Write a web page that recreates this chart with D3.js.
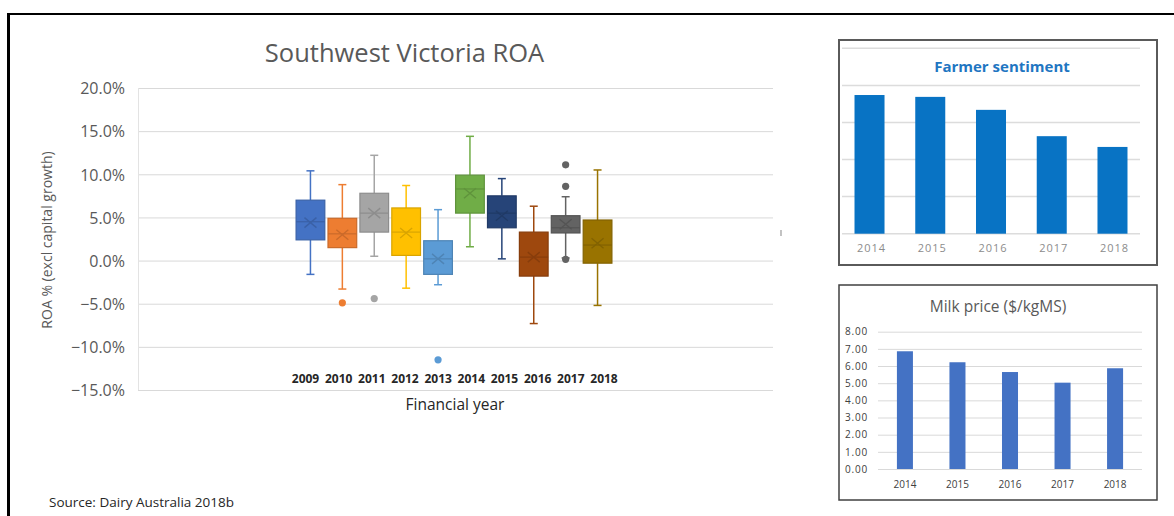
<!DOCTYPE html>
<html>
<head>
<meta charset="utf-8">
<script src="https://cdn.jsdelivr.net/npm/d3@7"></script>
<style>
  html, body { margin: 0; padding: 0; background: #fff; }
  svg { display: block; }
  text { font-family: "Open Sans", "Liberation Sans", sans-serif; }
</style>
</head>
<body>
<svg id="chart" width="1174" height="516"></svg>
<script>
// ---- Southwest Victoria ROA (box & whisker, % excl capital growth) ----
const years = ["2009","2010","2011","2012","2013","2014","2015","2016","2017","2018"];
const whiskerLow  = [-1.6, -3.3, 0.5, -3.2, -2.8, 1.6, 0.2, -7.3, 0.3, -5.2];
const quartile1   = [ 2.4,  1.5, 3.3,  0.6, -1.6, 5.5, 3.8, -1.8, 3.2, -0.3];
const medians     = [ 4.5,  3.1, 5.5,  3.3,  0.2, 8.3, 5.5,  0.4, 3.8,  1.8];
const quartile3   = [ 7.0,  4.9, 7.8,  6.1,  2.3, 9.9, 7.5,  3.3, 5.2,  4.7];
const whiskerHigh = [10.4,  8.8, 12.2, 8.7,  5.9, 14.4, 9.5, 6.3, 7.4, 10.5];
const means       = [ 4.4,  3.0, 5.5,  3.2,  0.2, 7.8, 5.2,  0.4, 4.2,  2.0];
const outliers    = [[], [-4.9], [-4.4], [], [-11.5], [], [], [], [11.1, 8.6, 0.15], []];
const seriesColors = ["#4472C4","#ED7D31","#A5A5A5","#FFC000","#5B9BD5",
                      "#70AD47","#264478","#9E480E","#636363","#997300"];
const roaTicks = [20, 15, 10, 5, 0, -5, -10, -15];

// ---- Farmer sentiment (index) ----
const sentimentYears = ["2014","2015","2016","2017","2018"];
const sentimentValues = [3.74, 3.69, 3.34, 2.63, 2.34];
const sentimentGrid = [0, 1, 2, 3, 4, 5];

// ---- Milk price ($/kgMS) ----
const milkYears = ["2014","2015","2016","2017","2018"];
const milkPrices = [6.86, 6.22, 5.65, 5.03, 5.87];
const milkTicks = [0, 1, 2, 3, 4, 5, 6, 7, 8];

const svg = d3.select("#chart");

// page frame
svg.append("line").attr("x1", 7).attr("x2", 1174).attr("y1", 14).attr("y2", 14)
  .attr("stroke", "#000").attr("stroke-width", 2);
svg.append("line").attr("x1", 8.5).attr("x2", 8.5).attr("y1", 13).attr("y2", 516)
  .attr("stroke", "#000").attr("stroke-width", 3);

// ================= ROA box plot =================
const plot = { left: 138, right: 773, top: 88, bottom: 390 };
const y = d3.scaleLinear().domain([-15, 20]).range([plot.bottom, plot.top]);
const xBox = d3.scaleBand().domain(years).range([294.5, 613.5])
  .paddingInner(0.1).paddingOuter(0.05);
const xLabel = d3.scalePoint().domain(years).range([305.5, 604]);

// gridlines
svg.append("g")
  .attr("transform", `translate(${plot.left},0)`)
  .call(d3.axisLeft(y).tickValues(roaTicks).tickSize(-(plot.right - plot.left)).tickFormat(""))
  .call(g => g.select(".domain").remove())
  .call(g => g.selectAll("line").attr("stroke", "#d9d9d9").attr("stroke-width", 1));
svg.append("line").attr("x1", plot.left + 0.5).attr("x2", plot.left + 0.5)
  .attr("y1", y(20)).attr("y2", y(-15)).attr("stroke", "#e3e3e3");

// tick labels
svg.append("g")
  .attr("transform", `translate(125,0)`)
  .call(d3.axisLeft(y).tickValues(roaTicks).tickSize(0).tickPadding(0)
        .tickFormat(d => d3.format(".1f")(d) + "%"))
  .call(g => g.select(".domain").remove())
  .call(g => g.selectAll("text")
    .attr("fill", "#595959").attr("font-size", "16px")
    .attr("font-family", "'Open Sans', sans-serif").attr("dy", "0.36em"));

// title & axis titles
svg.append("text").attr("x", 404.5).attr("y", 62).attr("text-anchor", "middle")
  .attr("font-size", "25.5px").attr("fill", "#595959").text("Southwest Victoria ROA");
svg.append("text").attr("transform", "translate(52,240) rotate(-90)")
  .attr("text-anchor", "middle").attr("font-size", "14px").attr("fill", "#595959")
  .text("ROA % (excl capital growth)");
svg.append("text").attr("x", 455).attr("y", 410).attr("text-anchor", "middle")
  .attr("font-size", "15.5px").attr("fill", "#262626").text("Financial year");

// boxes
const boxes = svg.append("g").selectAll("g").data(years).join("g");
const bw = xBox.bandwidth();
boxes.each(function(yr, i) {
  const g = d3.select(this);
  const c = d3.color(seriesColors[i]);
  const dark = c.darker(0.45).formatHex();
  const cx = xBox(yr) + bw / 2;
  const capW = 8;
  // whiskers
  g.append("line").attr("x1", cx).attr("x2", cx)
    .attr("y1", y(whiskerHigh[i])).attr("y2", y(quartile3[i]))
    .attr("stroke", seriesColors[i]).attr("stroke-width", 1.5);
  g.append("line").attr("x1", cx).attr("x2", cx)
    .attr("y1", y(quartile1[i])).attr("y2", y(whiskerLow[i]))
    .attr("stroke", seriesColors[i]).attr("stroke-width", 1.5);
  [whiskerHigh[i], whiskerLow[i]].forEach(v => {
    g.append("line").attr("x1", cx - capW / 2).attr("x2", cx + capW / 2)
      .attr("y1", y(v)).attr("y2", y(v))
      .attr("stroke", seriesColors[i]).attr("stroke-width", 1.5);
  });
  // box
  g.append("rect").attr("x", xBox(yr)).attr("width", bw)
    .attr("y", y(quartile3[i])).attr("height", y(quartile1[i]) - y(quartile3[i]))
    .attr("fill", seriesColors[i]).attr("stroke", dark).attr("stroke-width", 1.2);
  // median
  g.append("line").attr("x1", xBox(yr)).attr("x2", xBox(yr) + bw)
    .attr("y1", y(medians[i])).attr("y2", y(medians[i]))
    .attr("stroke", dark).attr("stroke-width", 1.2);
  // mean marker (X)
  const my = y(means[i]), r = 6, rv = 5;
  g.append("path")
    .attr("d", `M${cx - r},${my - rv}L${cx + r},${my + rv}M${cx - r},${my + rv}L${cx + r},${my - rv}`)
    .attr("stroke", dark).attr("stroke-width", 1.4).attr("fill", "none");
  // outliers
  g.selectAll("circle").data(outliers[i]).join("circle")
    .attr("cx", cx).attr("cy", d => y(d)).attr("r", 3.6)
    .attr("fill", seriesColors[i]);
});

// series labels
svg.append("g").selectAll("text").data(years).join("text")
  .attr("x", d => xLabel(d)).attr("y", 383).attr("text-anchor", "middle")
  .attr("font-size", "12px").attr("font-weight", "bold").attr("fill", "#262626")
  .text(d => d);

// small resize handle mark at plot edge
svg.append("line").attr("x1", 781).attr("x2", 781).attr("y1", 230).attr("y2", 236)
  .attr("stroke", "#9a9a9a").attr("stroke-width", 1.2);

// source note
svg.append("text").attr("x", 49).attr("y", 507).attr("font-size", "13.5px")
  .attr("fill", "#262626").text("Source: Dairy Australia 2018b");

// ================= Farmer sentiment panel =================
svg.append("rect").attr("x", 839).attr("y", 40).attr("width", 318).attr("height", 225)
  .attr("fill", "#fff").attr("stroke", "#5a5a5a").attr("stroke-width", 2);
const ys = d3.scaleLinear().domain([0, 5]).range([233.7, 48.3]);
const xs = d3.scaleBand().domain(sentimentYears).range([842, 1140])
  .paddingInner(0.506).paddingOuter(0.206);
svg.append("g").selectAll("line").data(sentimentGrid).join("line")
  .attr("x1", 842).attr("x2", 1140).attr("y1", d => ys(d)).attr("y2", d => ys(d))
  .attr("stroke", "#dcdcdc").attr("stroke-width", 1.5);
svg.append("g").selectAll("rect").data(sentimentValues).join("rect")
  .attr("x", (d, i) => xs(sentimentYears[i])).attr("width", xs.bandwidth())
  .attr("y", d => ys(d)).attr("height", d => ys(0) - ys(d))
  .attr("fill", "#0873C4");
svg.append("g").selectAll("text").data(sentimentYears).join("text")
  .attr("x", d => xs(d) + xs.bandwidth() / 2 + 2).attr("y", 252)
  .attr("text-anchor", "middle").attr("font-size", "11px")
  .attr("font-family", "'Liberation Sans', sans-serif").attr("letter-spacing", "1px")
  .attr("fill", "#8c8c8c").text(d => d);
svg.append("text").attr("x", 1002).attr("y", 72).attr("text-anchor", "middle")
  .attr("font-size", "15px").attr("font-weight", "bold").attr("fill", "#1F76C2")
  .text("Farmer sentiment");

// ================= Milk price panel =================
svg.append("rect").attr("x", 839).attr("y", 285).attr("width", 318).attr("height", 215)
  .attr("fill", "#fff").attr("stroke", "#404040").attr("stroke-width", 1.5);
const ym = d3.scaleLinear().domain([0, 8]).range([469, 331.7]);
const xm = d3.scaleBand().domain(milkYears).range([878, 1142])
  .paddingInner(0.695).paddingOuter(0.36);
svg.append("g")
  .attr("transform", "translate(878,0)")
  .call(d3.axisLeft(ym).tickValues(milkTicks).tickSize(-264).tickPadding(10)
        .tickFormat(d3.format(".2f")))
  .call(g => g.select(".domain").remove())
  .call(g => g.selectAll("line").attr("stroke", "#d9d9d9"))
  .call(g => g.selectAll("text").attr("fill", "#404040").attr("font-size", "10px")
        .attr("letter-spacing", "0.8px").attr("font-family", "'Open Sans', sans-serif"));
svg.append("g").selectAll("rect").data(milkPrices).join("rect")
  .attr("x", (d, i) => xm(milkYears[i])).attr("width", xm.bandwidth())
  .attr("y", d => ym(d)).attr("height", d => ym(0) - ym(d))
  .attr("fill", "#4472C4");
svg.append("g").selectAll("text").data(milkYears).join("text")
  .attr("x", d => xm(d) + xm.bandwidth() / 2).attr("y", 488)
  .attr("text-anchor", "middle").attr("font-size", "10px").attr("fill", "#404040")
  .text(d => d);
svg.append("text").attr("x", 998).attr("y", 312).attr("text-anchor", "middle")
  .attr("font-size", "15.5px").attr("fill", "#595959").text("Milk price ($/kgMS)");
</script>
</body>
</html>
